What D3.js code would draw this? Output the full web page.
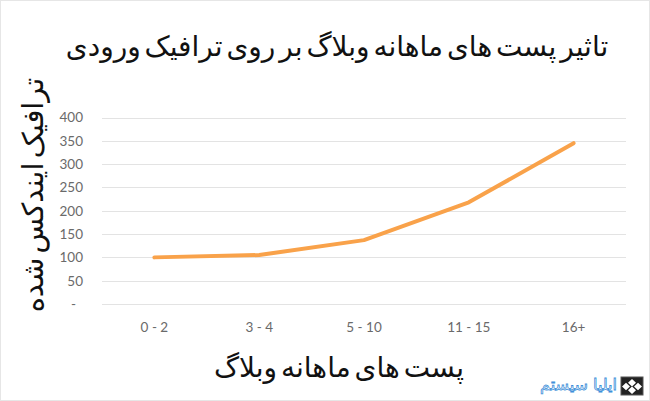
<!DOCTYPE html>
<html>
<head>
<meta charset="utf-8">
<script src="https://cdn.jsdelivr.net/npm/d3@7"></script>
<style>
  html, body { margin: 0; padding: 0; background: #fff; }
  svg { display: block; }
</style>
</head>
<body>
<svg id="chart" width="650" height="401"></svg>
<script>
const categories = ["0 - 2", "3 - 4", "5 - 10", "11 - 15", "16+"];
const traffic = [100, 105, 137, 218, 345];
const yTicks = [0, 50, 100, 150, 200, 250, 300, 350, 400];
const title = "تاثیر پست های ماهانه وبلاگ بر روی ترافیک ورودی";
const xTitle = "پست های ماهانه وبلاگ";
const yTitle = "ترافیک ایندکس شده";

const svg = d3.select("#chart");
const W = 650, H = 401;
const plot = { left: 102, right: 626, top: 117.5, bottom: 304 };

svg.append("rect").attr("x", 0.5).attr("y", 0.5).attr("width", W - 1).attr("height", H - 1)
  .attr("fill", "#fff").attr("stroke", "#e6e6e6");

const x = d3.scaleBand().domain(categories).range([plot.left, plot.right]);
const y = d3.scaleLinear().domain([0, 400]).range([plot.bottom, plot.top]);

// gridlines
svg.append("g").selectAll("line").data(yTicks).join("line")
  .attr("x1", plot.left).attr("x2", plot.right)
  .attr("y1", d => Math.round(y(d)) + 0.5).attr("y2", d => Math.round(y(d)) + 0.5)
  .attr("stroke", "#e3e3e3").attr("stroke-width", 1);

// y axis labels
const yAxis = d3.axisLeft(y).tickValues(yTicks).tickSize(0).tickPadding(0)
  .tickFormat(d => d === 0 ? "-" : d3.format("d")(d));
const gy = svg.append("g").attr("transform", "translate(83,0)").call(yAxis);
gy.select(".domain").remove();
gy.selectAll("text").attr("font-family", "Lato, 'Open Sans', sans-serif")
  .attr("font-size", 13.5).attr("fill", "#6a6a6a");
gy.selectAll(".tick").filter(d => d === 0).select("text").attr("dx", -7);

// x axis labels
const xAxis = d3.axisBottom(x).tickSize(0).tickPadding(0);
const gx = svg.append("g").attr("transform", "translate(0,322)").call(xAxis);
gx.select(".domain").remove();
gx.selectAll("text").attr("font-family", "Lato, 'Open Sans', sans-serif")
  .attr("font-size", 13.5).attr("fill", "#6a6a6a");

// line
const line = d3.line()
  .x((d, i) => x(categories[i]) + x.bandwidth() / 2)
  .y(d => y(d))
  .curve(d3.curveLinear);
svg.append("path").datum(traffic)
  .attr("d", line)
  .attr("fill", "none").attr("stroke", "#f9a24a").attr("stroke-width", 4)
  .attr("stroke-linecap", "round").attr("stroke-linejoin", "round");

// titles
const faFont = "'DejaVu Sans', 'Noto Sans', sans-serif";
svg.append("text").attr("x", 337).attr("y", 56).attr("text-anchor", "middle")
  .attr("direction", "rtl").attr("font-family", faFont).attr("font-size", 28)
  .attr("word-spacing", -5).attr("fill", "#111").text(title);

svg.append("text").attr("x", 339).attr("y", 377).attr("text-anchor", "middle")
  .attr("direction", "rtl").attr("font-family", faFont).attr("font-size", 28)
  .attr("word-spacing", -5).attr("fill", "#111").text(xTitle);

svg.append("text").attr("transform", "translate(43,195) rotate(-90)")
  .attr("text-anchor", "middle").attr("direction", "rtl")
  .attr("font-family", faFont).attr("font-size", 29)
  .attr("word-spacing", -5).attr("fill", "#111").text(yTitle);

// watermark logo
const logo = svg.append("g").attr("transform", "translate(621,377)");
logo.append("rect").attr("width", 22).attr("height", 18).attr("fill", "#222").attr("stroke", "#555");
logo.append("path").attr("d", "M11,2 L15,6 L11,10 L7,6 Z M5,6 L9,10 L5,14 L1,10 Z M17,6 L21,10 L17,14 L13,10 Z M11,10 L15,14 L11,18 L7,14 Z")
  .attr("fill", "#fff").attr("transform", "scale(1,0.95)");
svg.append("text").attr("x", 617).attr("y", 390).attr("text-anchor", "start")
  .attr("direction", "rtl").attr("font-family", faFont).attr("font-size", 16)
  .attr("fill", "none").attr("stroke", "#3d8fd9").attr("stroke-width", 0.8)
  .text("ایلیا سیستم");
</script>
</body>
</html>
